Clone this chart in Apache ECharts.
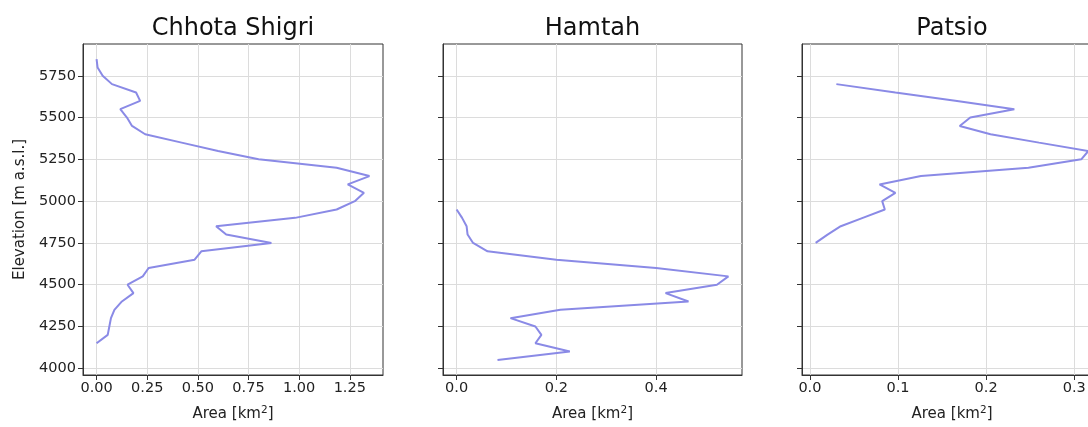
<!DOCTYPE html>
<html>
<head>
<meta charset="utf-8">
<script src="https://cdn.jsdelivr.net/npm/echarts@6/dist/echarts.min.js"></script>
<style>
  html, body { margin: 0; padding: 0; background: #fff; }
  #main { width: 1088px; height: 427px; }
</style>
</head>
<body>
<div id="main"></div>
<script>
var myChart = echarts.init(document.getElementById('main'));

// glacier names (panel titles)
var glaciers = ['Chhota Shigri', 'Hamtah', 'Patsio'];

// elevation bands [m a.s.l.] and area per band [km2]
var shigriElev = [5850, 5800, 5750, 5700, 5650, 5600, 5550, 5500, 5450, 5400, 5350, 5300, 5250, 5200, 5150, 5100, 5050, 5000,
  4950, 4900, 4850, 4800, 4750, 4700, 4650, 4600, 4550, 4500, 4450, 4400, 4350, 4300, 4250, 4200, 4150];
var shigriArea = [0.0, 0.005, 0.03, 0.076, 0.195, 0.215, 0.117, 0.15, 0.175, 0.24, 0.42, 0.6, 0.8, 1.185, 1.347, 1.24, 1.32, 1.275,
  1.185, 0.98, 0.59, 0.64, 0.863, 0.517, 0.484, 0.257, 0.228, 0.153, 0.182, 0.125, 0.088, 0.071, 0.063, 0.055, 0.0];

var hamtahElev = [4950, 4900, 4850, 4800, 4750, 4700, 4650, 4600, 4550, 4500, 4450, 4400, 4350, 4300, 4250, 4200, 4150, 4100, 4050];
var hamtahArea = [0.0, 0.011, 0.02, 0.022, 0.033, 0.062, 0.2, 0.4, 0.545, 0.522, 0.419, 0.465, 0.208, 0.108, 0.158, 0.17, 0.158, 0.227, 0.082];

var patsioElev = [5700, 5650, 5600, 5550, 5500, 5450, 5400, 5350, 5300, 5250, 5200, 5150, 5100, 5050, 5000, 4950, 4900, 4850, 4800, 4750];
var patsioArea = [0.03, 0.097, 0.165, 0.232, 0.182, 0.17, 0.205, 0.26, 0.316, 0.308, 0.248, 0.126, 0.079, 0.097, 0.082, 0.085, 0.06, 0.035, 0.02, 0.0065];

// tick labels
var elevTicks = [4000, 4250, 4500, 4750, 5000, 5250, 5500, 5750];
var shigriTicks = [0, 0.25, 0.5, 0.75, 1.0, 1.25];
var hamtahTicks = [0, 0.2, 0.4];
var patsioTicks = [0, 0.1, 0.2, 0.3];

var lineColor = '#8a8ae6';
var font = 'DejaVu Sans';

function pairs(area, elev) {
  return area.map(function (a, i) { return [a, elev[i]]; });
}

// last panel runs past the right edge of the picture
var panels = [
  { left: 83, width: 300, xmin: -0.067, xmax: 1.414, ticks: shigriTicks, dec: 2, data: pairs(shigriArea, shigriElev) },
  { left: 443, width: 299, xmin: -0.0273, xmax: 0.5723, ticks: hamtahTicks, dec: 1, data: pairs(hamtahArea, hamtahElev) },
  { left: 802, width: 300, xmin: -0.009, xmax: 0.3315, ticks: patsioTicks, dec: 1, data: pairs(patsioArea, patsioElev) }
];

var option = {
  animation: false,
  backgroundColor: '#fff',
  title: panels.map(function (p, i) {
    return {
      text: glaciers[i],
      left: p.left + p.width / 2 - 5,
      top: 12,
      textAlign: 'center',
      textStyle: { fontSize: 24, fontWeight: 'normal', fontFamily: font, color: '#111' }
    };
  }),
  grid: panels.map(function (p) {
    return {
      left: p.left, width: p.width, top: 44, height: 331,
      outerBoundsMode: 'none', containLabel: false,
      show: true, borderColor: '#333', borderWidth: 1, backgroundColor: 'transparent'
    };
  }),
  xAxis: panels.map(function (p, i) {
    return {
      type: 'value',
      gridIndex: i,
      min: p.xmin,
      max: p.xmax,
      name: 'Area [km{sup|2}]',
      nameLocation: 'middle',
      nameGap: 30,
      nameTextStyle: {
        fontSize: 15, fontFamily: font, color: '#222',
        rich: { sup: { fontSize: 10.5, fontFamily: font, color: '#222', verticalAlign: 'bottom', padding: [0, 0, 7, 0] } }
      },
      axisLine: { show: true, onZero: false, lineStyle: { color: '#333' } },
      axisTick: { show: true, length: 5, customValues: p.ticks, lineStyle: { color: '#333' } },
      axisLabel: {
        customValues: p.ticks,
        fontSize: 14.5, fontFamily: font, color: '#222', margin: 6,
        formatter: function (v) { return v.toFixed(p.dec); }
      },
      splitLine: { show: true, lineStyle: { color: '#dcdcdc' } }
    };
  }),
  yAxis: panels.map(function (p, i) {
    return {
      type: 'value',
      gridIndex: i,
      min: 3960,
      max: 5940,
      name: i === 0 ? 'Elevation [m a.s.l.]' : '',
      nameLocation: 'middle',
      nameGap: 55,
      nameTextStyle: { fontSize: 15, fontFamily: font, color: '#222' },
      axisLine: { show: true, onZero: false, lineStyle: { color: '#333' } },
      axisTick: { show: true, length: 5, customValues: elevTicks, lineStyle: { color: '#333' } },
      axisLabel: {
        show: i === 0,
        customValues: elevTicks,
        fontSize: 14.5, fontFamily: font, color: '#222', margin: 7,
        formatter: function (v) { return String(v); }
      },
      splitLine: { show: true, lineStyle: { color: '#dcdcdc' } }
    };
  }),
  series: panels.map(function (p, i) {
    return {
      type: 'line',
      xAxisIndex: i,
      yAxisIndex: i,
      data: p.data,
      showSymbol: false,
      lineStyle: { color: lineColor, width: 2 },
      itemStyle: { color: lineColor }
    };
  })
};

myChart.setOption(option);
</script>
</body>
</html>
